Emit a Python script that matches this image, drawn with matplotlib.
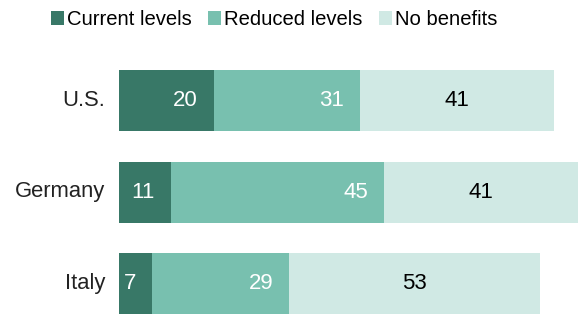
import numpy as np
import matplotlib.pyplot as plt

plt.rcParams["font.family"] = ["Liberation Sans", "DejaVu Sans"]

countries = ["U.S.", "Germany", "Italy"]
series_names = ["Current levels", "Reduced levels", "No benefits"]
current = [20, 11, 7]
reduced = [31, 45, 29]
no_benefits = [41, 41, 53]

colors = ["#387867", "#78c0af", "#d0e9e4"]
text_colors = ["white", "white", "black"]

W, H = 578, 314
fig = plt.figure(figsize=(W / 100, H / 100), dpi=100)
# axes spans x from 119px to the right edge, y from ~55px to the bottom edge
ax = fig.add_axes([119 / W, 0, 1 - 119 / W, (H - 54.75) / H])
ax.set_xlim(0, 97)
ax.set_ylim(2 + 1 / 3, -0.5)
ax.axis("off")

y = np.arange(len(countries))
bar_h = 2 / 3
left = np.zeros(len(countries))
data = [current, reduced, no_benefits]
for i, (vals, name) in enumerate(zip(data, series_names)):
    vals = np.array(vals, dtype=float)
    ax.barh(y, vals, left=left, height=bar_h, color=colors[i], label=name)
    for yy, l, v in zip(y, left, vals):
        if i < 2:
            # right-aligned inside the segment
            ax.text(l + v - 3.4, yy, f"{int(v)}", ha="right", va="center",
                    color=text_colors[i], fontsize=16)
        else:
            ax.text(l + v / 2, yy, f"{int(v)}", ha="center", va="center",
                    color=text_colors[i], fontsize=16)
    left += vals

for yy, c in zip(y, countries):
    ax.text(-2.9, yy, c, ha="right", va="center", fontsize=15.8, color="#222222")

handles, labels = ax.get_legend_handles_labels()
fig.legend(handles, labels, loc="center left", bbox_to_anchor=(51 / W, 1 - 19.5 / H),
           ncol=3, frameon=False, fontsize=14.6, handlelength=0.64, handleheight=0.64,
           handletextpad=0.15, columnspacing=0.8, borderaxespad=0, borderpad=0)

fig.savefig("out.png", dpi=100)
